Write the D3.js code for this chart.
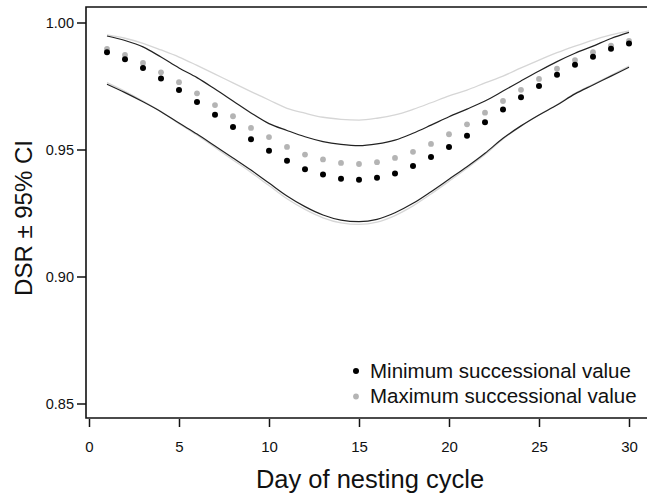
<!DOCTYPE html>
<html>
<head>
<meta charset="utf-8">
<script src="https://cdn.jsdelivr.net/npm/d3@7"></script>
<style>
  body { margin: 0; background: #fff; }
  text { font-family: "Liberation Sans", Arial, sans-serif; fill: #111; }
</style>
</head>
<body>
<script>
// days of nesting cycle
var days = d3.range(1, 31);

// DSR, minimum successional value (black points)
var minDSR = [0.9883, 0.9855, 0.9821, 0.9780, 0.9734, 0.9687, 0.9637, 0.9589, 0.9540, 0.9495,
              0.9456, 0.9422, 0.9402, 0.9385, 0.9381, 0.9389, 0.9406, 0.9435, 0.9470, 0.9510,
              0.9554, 0.9607, 0.9657, 0.9706, 0.9750, 0.9794, 0.9834, 0.9865, 0.9897, 0.9917];
// DSR, maximum successional value (grey points)
var maxDSR = [0.9896, 0.9872, 0.9841, 0.9804, 0.9765, 0.9721, 0.9675, 0.9631, 0.9585, 0.9549,
              0.9510, 0.9480, 0.9461, 0.9447, 0.9443, 0.9450, 0.9467, 0.9491, 0.9522, 0.9560,
              0.9599, 0.9645, 0.9691, 0.9735, 0.9778, 0.9818, 0.9852, 0.9883, 0.9909, 0.9928];

// 95% CI bounds
var minUpper = [0.9947, 0.9929, 0.9904, 0.9864, 0.9821, 0.9783, 0.9738, 0.9691, 0.9644, 0.9602,
                0.9575, 0.9550, 0.9531, 0.9520, 0.9515, 0.9522, 0.9537, 0.9564, 0.9596, 0.9629,
                0.9659, 0.9691, 0.9730, 0.9770, 0.9809, 0.9846, 0.9879, 0.9907, 0.9937, 0.9961];
var minLower = [0.9757, 0.9724, 0.9688, 0.9649, 0.9604, 0.9561, 0.9514, 0.9467, 0.9419, 0.9368,
                0.9317, 0.9275, 0.9242, 0.9222, 0.9216, 0.9225, 0.9251, 0.9288, 0.9334, 0.9383,
                0.9432, 0.9485, 0.9544, 0.9593, 0.9636, 0.9675, 0.9719, 0.9754, 0.9789, 0.9824];
var maxUpper = [0.9951, 0.9938, 0.9918, 0.9892, 0.9864, 0.9831, 0.9797, 0.9762, 0.9728, 0.9695,
                0.9662, 0.9643, 0.9627, 0.9619, 0.9616, 0.9623, 0.9636, 0.9658, 0.9684, 0.9711,
                0.9734, 0.9762, 0.9789, 0.9821, 0.9852, 0.9881, 0.9907, 0.9931, 0.9951, 0.9967];
var maxLower = [0.9763, 0.9729, 0.9691, 0.9649, 0.9602, 0.9557, 0.9508, 0.9459, 0.9410, 0.9358,
                0.9306, 0.9264, 0.9231, 0.9211, 0.9205, 0.9214, 0.9240, 0.9278, 0.9325, 0.9375,
                0.9426, 0.9480, 0.9541, 0.9592, 0.9636, 0.9676, 0.9721, 0.9757, 0.9792, 0.9828];

var xTicks = [0, 5, 10, 15, 20, 25, 30];
var yTicks = [0.85, 0.90, 0.95, 1.00];
var legendLabels = ["Minimum successional value", "Maximum successional value"];

var W = 647, H = 494;
var frame = {left: 86, top: 7, bottom: 418};

var svg = d3.select("body").append("svg")
    .attr("width", W)
    .attr("height", H);

var x = d3.scaleLinear().domain([0, 30]).range([89, 629]);
var y = d3.scaleLinear().domain([0.85, 1.00]).range([403.5, 22.5]);

// CI lines (grey ones first, black on top)
var line = d3.line()
    .x(function(d, i) { return x(days[i]); })
    .y(function(d) { return y(d); })
    .curve(d3.curveMonotoneX);

[[maxUpper, "#d6d6d6", 1.3], [maxLower, "#d6d6d6", 1.3],
 [minUpper, "#222", 1.2], [minLower, "#222", 1.2]].forEach(function(s) {
    svg.append("path")
        .datum(s[0])
        .attr("fill", "none")
        .attr("stroke", s[1])
        .attr("stroke-width", s[2])
        .attr("d", line);
});

// points
svg.append("g").selectAll("circle")
    .data(maxDSR)
    .join("circle")
    .attr("cx", function(d, i) { return x(days[i]); })
    .attr("cy", function(d) { return y(d); })
    .attr("r", 2.9)
    .attr("fill", "#b4b4b4");

svg.append("g").selectAll("circle")
    .data(minDSR)
    .join("circle")
    .attr("cx", function(d, i) { return x(days[i]); })
    .attr("cy", function(d) { return y(d); })
    .attr("r", 3)
    .attr("fill", "#000");

// frame: left, top, bottom
svg.append("path")
    .attr("d", "M" + W + "," + frame.top + "H" + frame.left + "V" + frame.bottom + "H" + W)
    .attr("fill", "none")
    .attr("stroke", "#111")
    .attr("stroke-width", 1.6);

// axes
var yAxis = svg.append("g")
    .attr("transform", "translate(" + frame.left + ",0)")
    .call(d3.axisLeft(y).tickValues(yTicks).tickFormat(d3.format(".2f")).tickSize(9).tickPadding(3));
yAxis.select(".domain").remove();
yAxis.selectAll(".tick line").attr("stroke", "#111").attr("stroke-width", 1.5);
yAxis.selectAll("text").style("font-size", "14.5px").attr("fill", "#111");

var xAxis = svg.append("g")
    .attr("transform", "translate(0," + (frame.bottom + 1) + ")")
    .call(d3.axisBottom(x).tickValues(xTicks).tickSize(8).tickPadding(14));
xAxis.select(".domain").remove();
xAxis.selectAll(".tick line").attr("stroke", "#111").attr("stroke-width", 1.5);
xAxis.selectAll("text").style("font-size", "15px").attr("fill", "#111");

// axis titles
svg.append("text")
    .attr("x", 370)
    .attr("y", 488)
    .attr("text-anchor", "middle")
    .style("font-size", "25.5px")
    .text("Day of nesting cycle");

svg.append("text")
    .attr("transform", "translate(32,218) rotate(-90)")
    .attr("text-anchor", "middle")
    .style("font-size", "24px")
    .text("DSR \u00b1 95% CI");

// legend
var legend = svg.append("g");
legendLabels.forEach(function(lab, i) {
    legend.append("circle")
        .attr("cx", 356)
        .attr("cy", 371 + i * 25.5)
        .attr("r", i === 0 ? 3 : 2.9)
        .attr("fill", i === 0 ? "#000" : "#b4b4b4");
    legend.append("text")
        .attr("x", 370)
        .attr("y", 377.5 + i * 25.5)
        .style("font-size", "20.5px")
        .text(lab);
});
</script>
</body>
</html>
